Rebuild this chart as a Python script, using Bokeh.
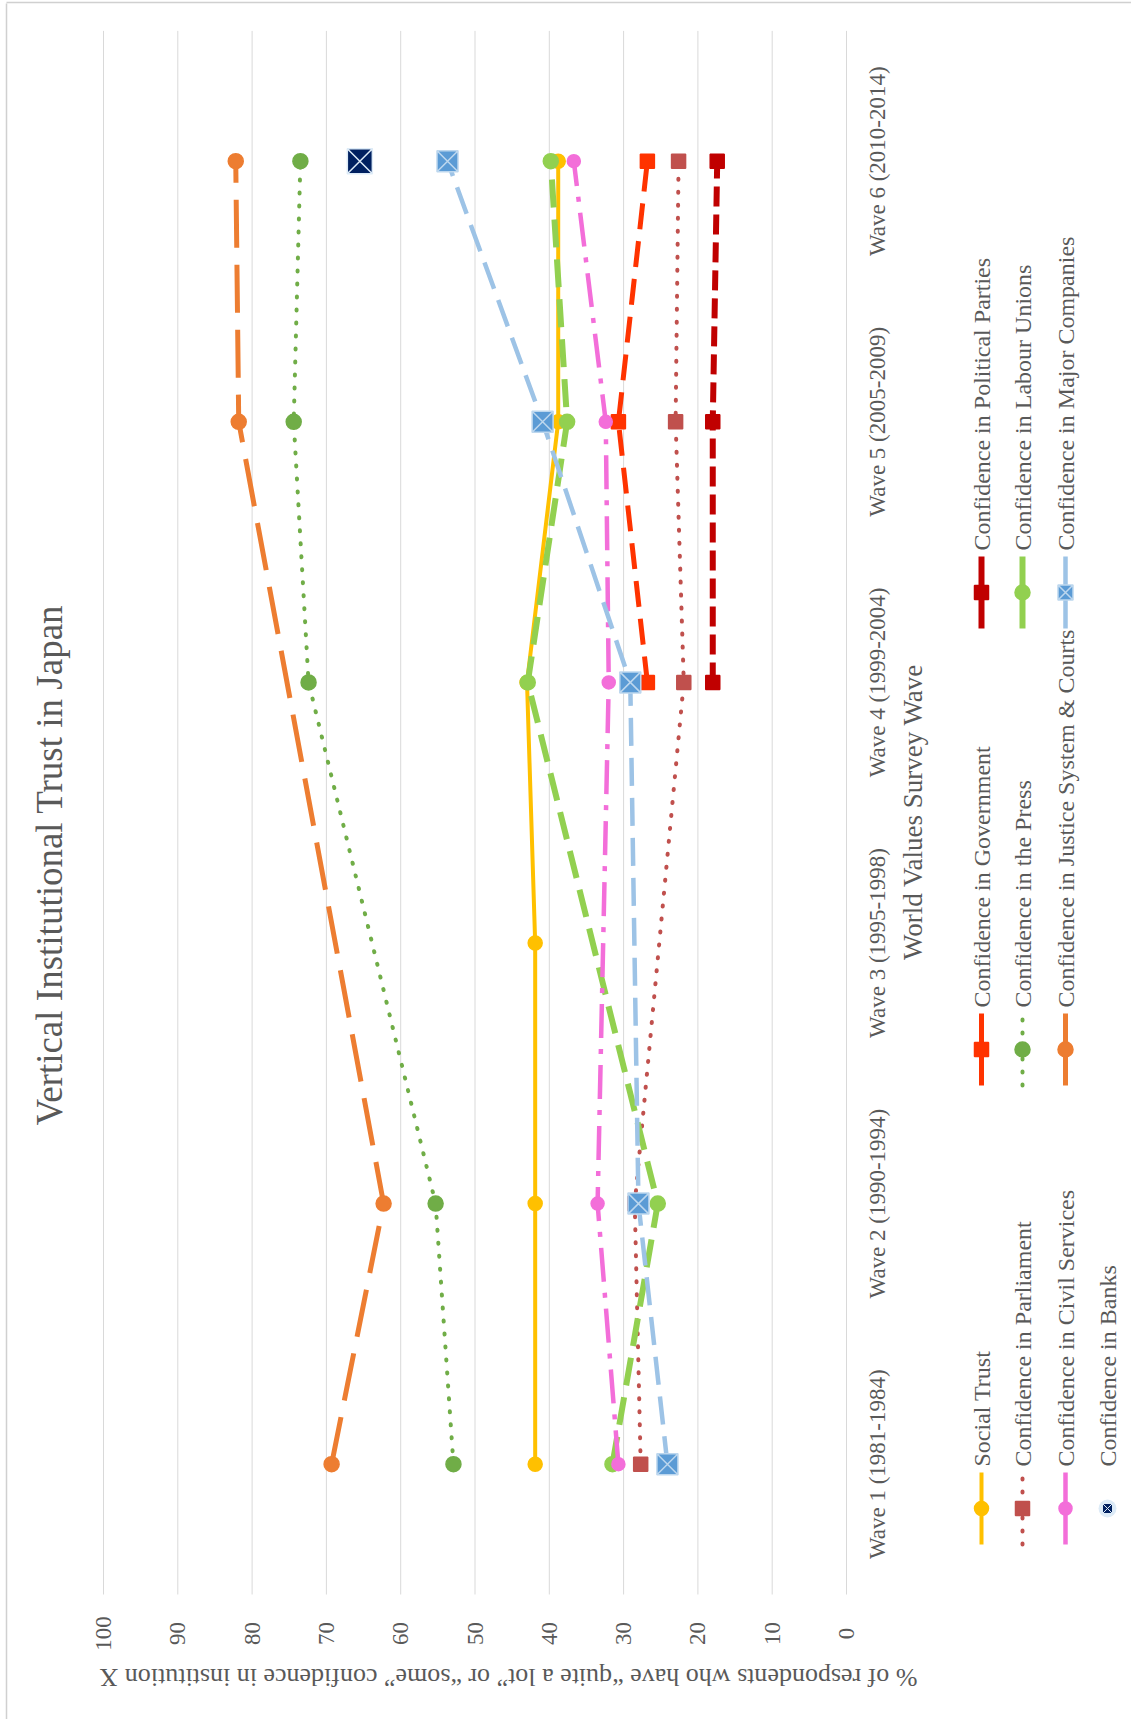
import math
from bokeh.plotting import figure
from bokeh.models import Range1d
from bokeh.core.properties import value
from bokeh.embed import file_html
from bokeh.resources import INLINE

# ---------------- data ----------------
waves = [1, 2, 3, 4, 5, 6]
wave_labels = ["Wave 1 (1981-1984)", "Wave 2 (1990-1994)", "Wave 3 (1995-1998)",
               "Wave 4 (1999-2004)", "Wave 5 (2005-2009)", "Wave 6 (2010-2014)"]
value_ticks = [0, 10, 20, 30, 40, 50, 60, 70, 80, 90, 100]
value_tick_labels = ["0", "10", "20", "30", "40", "50", "60", "70", "80", "90", "100"]

social_trust = [41.9, 41.9, 41.9, 43.0, 38.8, 38.8]
conf_government = [None, None, None, 26.8, 30.7, 26.8]
conf_parties = [None, None, None, 18.0, 18.0, 17.4]
conf_parliament = [27.7, 28.5, None, 21.9, 23.0, 22.6]
conf_press = [52.9, 55.3, None, 72.4, 74.4, 73.5]
conf_labour = [31.5, 25.4, None, 42.9, 37.6, 39.8]
conf_civil = [30.7, 33.5, None, 32.0, 32.4, 36.7]
conf_justice = [69.3, 62.3, None, None, 81.8, 82.2]
conf_companies = [24.1, 28.0, None, 29.1, 40.9, 53.7]
conf_banks = [None, None, None, None, None, 65.5]

series_names = ["Social Trust", "Confidence in Government", "Confidence in Political Parties",
                "Confidence in Parliament", "Confidence in the Press", "Confidence in Labour Unions",
                "Confidence in Civil Services", "Confidence in Justice System & Courts",
                "Confidence in Major Companies", "Confidence in Banks"]
series_values = [social_trust, conf_government, conf_parties, conf_parliament, conf_press,
                 conf_labour, conf_civil, conf_justice, conf_companies, conf_banks]

title_text = "Vertical Institutional  Trust in Japan"
x_title = "World Values Survey  Wave"
y_title = "% of respondents who have \u201cquite a lot\u201d or \u201csome\u201d confidence in institution X"

# ---------------- styles ----------------
styles = [
    dict(color="#FFC000", width=4, dash="solid", cap="butt", marker="circle", size=14, mfill="#FFC000", mline="#FFC000"),
    dict(color="#FF3300", width=5, dash="26 12", cap="butt", marker="square", size=14, mfill="#FF3300", mline="#FF3300"),
    dict(color="#C00000", width=6, dash="20 8", cap="butt", marker="square", size=14, mfill="#C00000", mline="#C00000"),
    dict(color="#C0504D", width=4, dash="1 12", cap="round", marker="square", size=14, mfill="#C0504D", mline="#C0504D"),
    dict(color="#70AD47", width=4, dash="1 12", cap="round", marker="circle", size=15, mfill="#70AD47", mline="#70AD47"),
    dict(color="#92D050", width=6, dash="28 12", cap="butt", marker="circle", size=15, mfill="#92D050", mline="#92D050"),
    dict(color="#F36ED9", width=4.5, dash="34 11 5 11", cap="butt", marker="circle", size=13, mfill="#F36ED9", mline="#F36ED9"),
    dict(color="#ED7D31", width=5, dash="48 17", cap="butt", marker="circle", size=15, mfill="#ED7D31", mline="#ED7D31"),
    dict(color="#9DC3E6", width=4.5, dash="28 12", cap="butt", marker="square_x", size=21, mfill="#5B9BD5", mline="#BDD7EE"),
    dict(color=None, width=0, dash="solid", cap="butt", marker="square_x", size=25, mfill="#002060", mline="#DDEBF7"),
]

FONT = value("Liberation Serif")
GREY = "#595959"

# ---------------- layout geometry (pixels) ----------------
W, H = 1131, 1719
X0_PX = 846.0        # pixel of value 0
PX_PER_UNIT = 7.43   # pixels per percentage point
W1_PX = 1463.7       # pixel row of wave 1
WAVE_STEP = 260.6    # pixels per wave


def vx(px):
    return (X0_PX - px) / PX_PER_UNIT


def wy(py):
    return 1 + (W1_PX - py) / WAVE_STEP


p = figure(width=W, height=H, output_backend="svg", toolbar_location=None,
           x_range=Range1d(vx(0), vx(W)), y_range=Range1d(wy(H), wy(0)),
           min_border=0, x_axis_location=None, y_axis_location=None,
           background_fill_color="white", border_fill_color="white")
p.grid.visible = False
p.outline_line_color = None

# chart border
p.line([vx(6), vx(6)], [wy(3), wy(H)], line_color="#D0D0D0", line_width=1.5)
p.line([vx(6), vx(W)], [wy(2), wy(2)], line_color="#D0D0D0", line_width=1.5)

# gridlines (value axis)
n = len(value_ticks)
p.segment(x0=value_ticks, y0=[0.5] * n, x1=value_ticks, y1=[6.5] * n,
          line_color="#D9D9D9", line_width=1)

# value axis tick labels
p.text(x=value_ticks, y=[wy(1633)] * n, text=value_tick_labels, angle=math.pi / 2,
       text_align="center", text_baseline="middle", text_font=FONT,
       text_font_size="23px", text_color=GREY)

# series
for name, vals, st in zip(series_names, series_values, styles):
    xs = [v for v in vals if v is not None]
    ys = [w for w, v in zip(waves, vals) if v is not None]
    if st["color"] is not None and len(xs) > 1:
        p.line(xs, ys, line_color=st["color"], line_width=st["width"],
               line_dash=st["dash"], line_cap=st["cap"])
    p.scatter(xs, ys, marker=st["marker"], size=st["size"], fill_color=st["mfill"],
              line_color=st["mline"], line_width=1.5)

# wave (category) labels
p.text(x=[vx(877)] * len(waves), y=waves, text=wave_labels, angle=math.pi / 2,
       text_align="center", text_baseline="middle", text_font=FONT,
       text_font_size="23px", text_color=GREY)

# axis titles and chart title
p.text(x=[vx(912)], y=[wy(808)], text=[x_title], angle=math.pi / 2, text_align="center",
       text_baseline="middle", text_font=FONT, text_font_size="27px", text_color=GREY)
p.text(x=[vx(49)], y=[wy(860)], text=[title_text], angle=math.pi / 2, text_align="center",
       text_baseline="middle", text_font=FONT, text_font_size="37px", text_color=GREY)
p.text(x=[vx(508)], y=[wy(1677)], text=[y_title], angle=math.pi, text_align="center",
       text_baseline="middle", text_font=FONT, text_font_size="26px", text_color=GREY)

# legend (drawn rotated like the chart)
legend_cols = [981, 1022, 1065, 1107]
legend_rows = [1508, 1049, 592]
for i, (name, st) in enumerate(zip(series_names, styles)):
    col = legend_cols[i // 3]
    my = legend_rows[i % 3]
    lx = vx(col)
    if st["color"] is not None:
        p.line([lx, lx], [wy(my + 36), wy(my - 36)], line_color=st["color"],
               line_width=st["width"], line_dash=st["dash"] if st["cap"] == "round" else "solid",
               line_cap=st["cap"])
        p.scatter([lx], [wy(my)], marker=st["marker"], size=min(st["size"], 15),
                  fill_color=st["mfill"], line_color=st["mline"], line_width=1.5)
    else:
        p.scatter([lx], [wy(my)], marker="circle", size=18,
                  fill_color="#DDEBF7", line_color=None)
        p.scatter([lx], [wy(my)], marker=st["marker"], size=10,
                  fill_color=st["mfill"], line_color=st["mline"], line_width=1)
    p.text(x=[lx], y=[wy(my - 42)], text=[name], angle=math.pi / 2, text_align="left",
           text_baseline="middle", text_font=FONT, text_font_size="24px", text_color=GREY)

open("out.html", "w").write(file_html(p, INLINE))
